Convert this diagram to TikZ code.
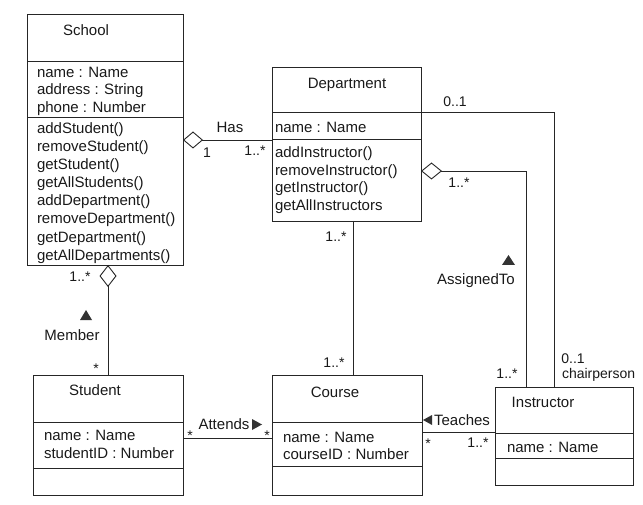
\documentclass[tikz,border=0pt]{standalone}
\usepackage{fontspec}
\setmainfont{Liberation Sans}
\usetikzlibrary{arrows.meta,calc}
\begin{document}
\begin{tikzpicture}[x=1pt,y=-1pt,
  every node/.style={inner sep=0pt,outer sep=0pt},
  ln/.style={draw=black!85,line width=0.9pt},
  cls/.style={ln,rectangle,fill=none},
  txt/.style={text=black!90,font=\fontsize{15}{18}\selectfont},
  mult/.style={text=black!90,font=\fontsize{14}{16}\selectfont},
  tri/.style={fill=black!80,draw=none},
  agg/.style={{Diamond[open,length=20pt,width=17pt]}-}
]
\useasboundingbox (0,0) rectangle (643,505);
% class boxes
\node[cls,minimum width=156pt,minimum height=251pt,anchor=north west] (school) at (27,14) {};
\node[cls,minimum width=149pt,minimum height=154pt,anchor=north west] (dept) at (272,67) {};
\node[cls,minimum width=150pt,minimum height=120pt,anchor=north west] (student) at (33,375) {};
\node[cls,minimum width=150pt,minimum height=120pt,anchor=north west] (course) at (272,375) {};
\node[cls,minimum width=138pt,minimum height=98pt,anchor=north west] (instr) at (495,387) {};
% compartments
\draw[ln] (school.west |- 0,61) -- (school.east |- 0,61);
\draw[ln] (school.west |- 0,117) -- (school.east |- 0,117);
\draw[ln] (dept.west |- 0,112) -- (dept.east |- 0,112);
\draw[ln] (dept.west |- 0,139) -- (dept.east |- 0,139);
\draw[ln] (student.west |- 0,422) -- (student.east |- 0,422);
\draw[ln] (student.west |- 0,468) -- (student.east |- 0,468);
\draw[ln] (course.west |- 0,422) -- (course.east |- 0,422);
\draw[ln] (course.west |- 0,466) -- (course.east |- 0,466);
\draw[ln] (instr.west |- 0,433) -- (instr.east |- 0,433);
\draw[ln] (instr.west |- 0,458) -- (instr.east |- 0,458);
% titles
\node[txt,anchor=base] (tSchool) at (86,35.5) {School};
\node[txt,anchor=base] (tDept) at (347,88.5) {Department};
\node[txt,anchor=base] (tStudent) at (95,395.5) {Student};
\node[txt,anchor=base] (tCourse) at (335,397.5) {Course};
\node[txt,anchor=base] (tInstr) at (543,407.5) {Instructor};
% School attributes and operations
\foreach \t [count=\i] in {name : Name,address : String,phone : Number}
  \node[txt,anchor=base west] (sa\i) at (37,{77.5+(\i-1)*17.5}) {\t};
\foreach \t [count=\i] in {addStudent(),removeStudent(),getStudent(),getAllStudents(),addDepartment(),removeDepartment(),getDepartment(),getAllDepartments()}
  \node[txt,anchor=base west] (so\i) at (37,{133.5+(\i-1)*18.1}) {\t};
% Department
\node[txt,anchor=base west] (da1) at (275,133) {name : Name};
\foreach \t [count=\i] in {addInstructor(),removeInstructor(),getInstructor(),getAllInstructors}
  \node[txt,anchor=base west] (do\i) at (275,{157.5+(\i-1)*17.7}) {\t};
% Student
\node[txt,anchor=base west] (sta1) at (44,440.5) {name : Name};
\node[txt,anchor=base west] (sta2) at (44,458.5) {studentID : Number};
% Course
\node[txt,anchor=base west] (ca1) at (283,442.5) {name : Name};
\node[txt,anchor=base west] (ca2) at (283,459.5) {courseID : Number};
% Instructor
\node[txt,anchor=base west] (ia1) at (507,452.5) {name : Name};
% connectors
\draw[ln,agg] (school.east |- 0,140) -- (dept.west |- 0,140);
\draw[ln,{Diamond[open,length=22pt,width=17pt]}-] (school.south -| 108,0) -- (student.north -| 108,0);
\draw[ln] (student.east |- 0,438) -- (course.west |- 0,438);
\draw[ln] (dept.south -| 353,0) -- (course.north -| 353,0);
\draw[ln] (course.east |- 0,432) -- (instr.west |- 0,432);
\coordinate (chairC) at (554,112);
\draw[ln] (dept.east |- chairC) -- (chairC) -- (instr.north -| chairC);
\coordinate (assC) at (526,171);
\draw[ln,{Diamond[open,length=21pt,width=17pt]}-] (dept.east |- assC) -- (assC) -- (instr.north -| assC);
% labels
\node[txt,anchor=base] (lHas) at (230,132.5) {Has};
\node[mult,anchor=base] (m1) at (207,157.5) {1};
\node[mult,anchor=base] (m2) at (255,156) {1..*};
\node[mult,anchor=base] (m3) at (455,107) {0..1};
\node[mult,anchor=base] (m4) at (459,188) {1..*};
\node[txt,anchor=base] (lAss) at (476,284) {AssignedTo};
\node[mult,anchor=base] (m5) at (507,378) {1..*};
\node[mult,anchor=base] (m6) at (573,363) {0..1};
\node[mult,anchor=base west] (m7) at (562,378) {chairperson};
\node[mult,anchor=base] (m8) at (336,242) {1..*};
\node[mult,anchor=base] (m9) at (334,367) {1..*};
\node[mult,anchor=base] (m10) at (80,282) {1..*};
\node[txt,anchor=base] (lMem) at (72,340) {Member};
\node[mult,anchor=base] (m11) at (96,373) {*};
\node[txt,anchor=base] (lAtt) at (224,429.5) {Attends};
\node[mult,anchor=base] (m12) at (190,440) {*};
\node[mult,anchor=base] (m13) at (267,440) {*};
\node[txt,anchor=base] (lTea) at (462,425.5) {Teaches};
\node[mult,anchor=base] (m14) at (428,448) {*};
\node[mult,anchor=base] (m15) at (478,447) {1..*};
% direction triangles
\fill[tri] (80,320) -- (92,320) -- (86,310) -- cycle;
\fill[tri] (502,265) -- (515,265) -- (508.5,255) -- cycle;
\fill[tri] (252,419) -- (252,430) -- (262,424.5) -- cycle;
\fill[tri] (432,415) -- (432,425) -- (423,420) -- cycle;
\end{tikzpicture}
\end{document}
